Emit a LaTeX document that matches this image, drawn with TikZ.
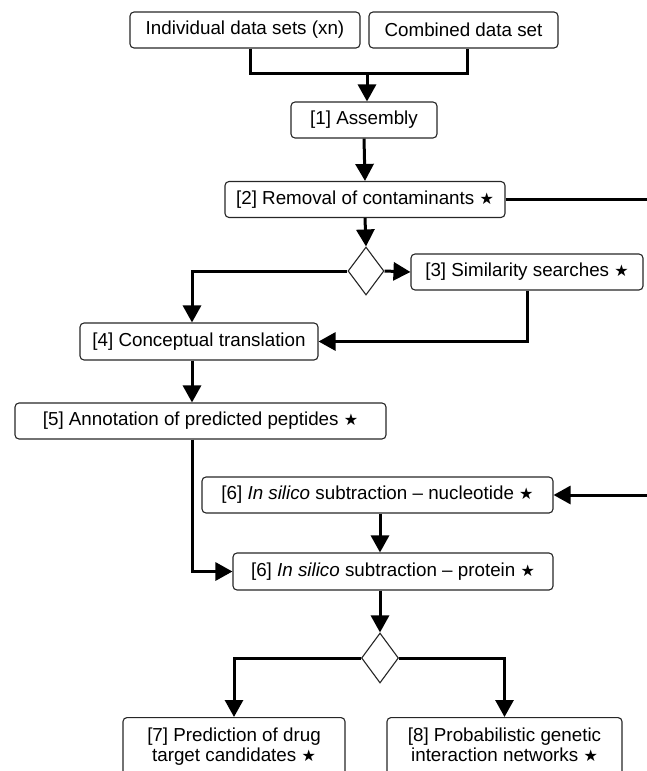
\documentclass[tikz,border=0pt]{standalone}
\usepackage{fontspec}
\setmainfont{Liberation Sans}
\newfontfamily\symfont{DejaVu Sans}
\usetikzlibrary{shapes,arrows.meta,calc,positioning}
\newcommand{\starmark}{{\symfont\fontsize{16}{16}\selectfont ★}}
\tikzstyle{arrow} = [draw, line width=3pt, -{Triangle[length=17pt,width=18pt]}]
\tikzstyle{link} = [draw, line width=3pt]
\tikzstyle{box} = [rectangle, rounded corners=4pt, draw=black!85, line width=1.1pt,
                   minimum height=36pt, inner sep=2pt, font={\fontsize{18.8}{20}\selectfont}]
\tikzstyle{choice} = [diamond, draw=black!85, line width=1.1pt, inner sep=0pt,
                      minimum width=36pt, minimum height=48pt]

\begin{document}
\begin{tikzpicture}[x=1pt, y=-1pt]
      \useasboundingbox (0,0) rectangle (647,771);
      \clip (0,0) rectangle (647,771);
      \node [box, minimum width=230pt] at (245,30) (indiv)
        {Individual data sets (xn)};
      \node [box, minimum width=189pt] at (463.5,30) (combined)
        {Combined data set};
      \coordinate (join) at (367,73);
      \node [box, minimum width=146pt] at (364,120) (assembly)
        {[1] Assembly};
      \node [box, minimum width=280pt] at (365,199.5) (removal)
        {[2] Removal of contaminants \starmark};
      \node [choice] at (366,271) (dia1) {};
      \node [box, minimum width=232pt] at (527,272) (similar)
        {[3] Similarity searches \starmark};
      \node [box, minimum width=238pt, minimum height=37pt] at (199,341.5) (concept)
        {[4] Conceptual translation};
      \node [box, minimum width=371pt] at (200.5,421) (annot)
        {[5] Annotation of predicted peptides \starmark};
      \node [box, minimum width=351pt] at (377.5,495) (nucleo)
        {[6] \textit{In silico} subtraction -- nucleotide \starmark};
      \node [box, minimum width=320pt, minimum height=37pt] at (393,571.5) (protein)
        {[6] \textit{In silico} subtraction -- protein \starmark};
      \node [choice, minimum width=37pt, minimum height=50pt] at (380,658) (dia2) {};
      \node [box, anchor=north, minimum width=222pt, align=center,
             inner ysep=10pt, text depth=40pt] at (234,717) (predict)
        {[7] Prediction of drug\\target candidates \starmark};
      \node [box, anchor=north, minimum width=235pt, align=center,
             inner ysep=10pt, text depth=40pt] at (504.5,717) (network)
        {[8] Probabilistic genetic\\interaction networks \starmark};
      \coordinate (far) at (662,350);
      % inputs merge into the assembly
      \path [link] ([xshift=5pt]indiv.south) |- (join) -| ([xshift=4pt]combined.south);
      \path [arrow] (join) -- (join |- assembly.north);
      \path [arrow] (assembly.south) -- (removal.north);
      \path [arrow] (removal.south) -- (dia1.north);
      \path [arrow] (dia1.east) -- (similar.west);
      \path [arrow] (dia1.west) -| ([xshift=-7pt]concept.north);
      \path [arrow] (similar.south) |- (concept.east);
      \path [arrow] ([xshift=-7pt]concept.south) -- ([xshift=-7pt]concept.south |- annot.north);
      \path [arrow] ([xshift=-8pt]annot.south) |- (protein.west);
      % branch round the right edge
      \path [arrow] (removal.east) -| (far) |- (nucleo.east);
      \path [arrow] ([xshift=2.5pt]nucleo.south) -- ([xshift=2.5pt]nucleo.south |- protein.north);
      \path [arrow] ([xshift=-13pt]protein.south) -- (dia2.north);
      \path [arrow] (dia2.west) -| (predict.north);
      \path [arrow] (dia2.east) -| (network.north);
    \end{tikzpicture}
\end{document}
